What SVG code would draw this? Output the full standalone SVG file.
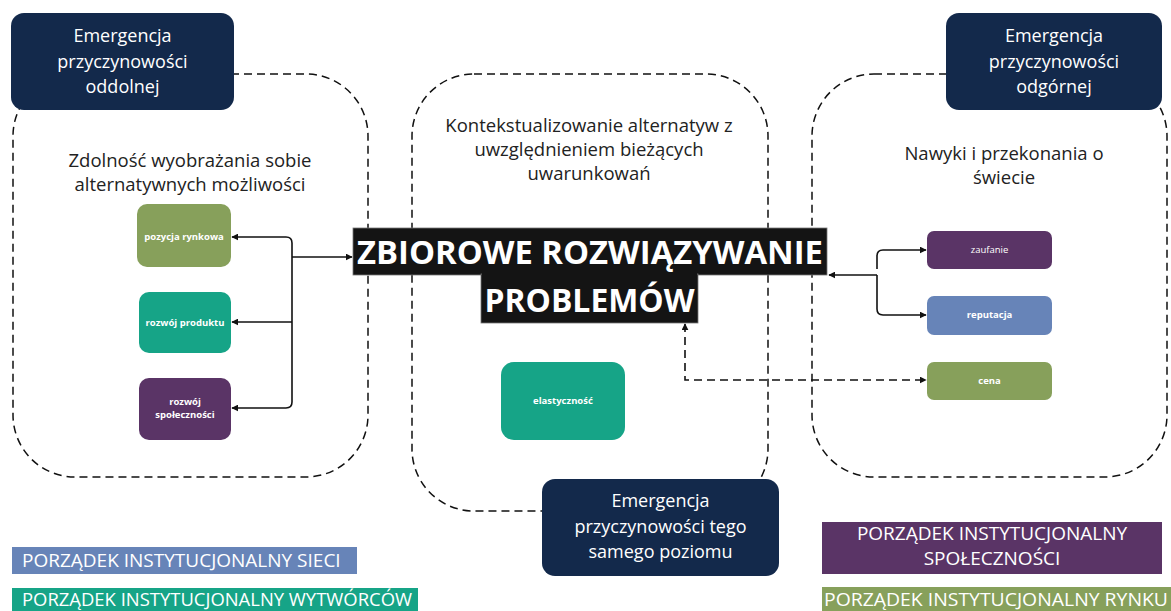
<svg xmlns="http://www.w3.org/2000/svg" width="1171" height="611" viewBox="0 0 1171 611">
  <style>
    text { font-family: "Open Sans", "Noto Sans", "DejaVu Sans", sans-serif; }
    .region { fill: none; stroke: #111; stroke-width: 1.5; stroke-dasharray: 8 5; }
    .rtitle { font-size: 18.5px; fill: #222; text-anchor: middle; }
    .emerg { fill: #13294b; }
    .etext { font-size: 18px; fill: #fff; text-anchor: middle; }
    .chip { font-size: 9.5px; font-weight: 700; fill: #fff; text-anchor: middle; }
    .chip-l { font-size: 9.5px; fill: #fff; text-anchor: middle; }
    .olive { fill: #87a05b; }
    .teal { fill: #16a487; }
    .purple { fill: #5a3466; }
    .blue { fill: #6784b8; }
    .title { font-size: 33px; font-weight: 700; fill: #fff; text-anchor: middle; }
    .legend { font-size: 19px; fill: #fff; }
    .wire { fill: none; stroke: #111; stroke-width: 1.6; }
    .dashwire { fill: none; stroke: #111; stroke-width: 1.6; stroke-dasharray: 8 5; }
  </style>
  <defs>
    <marker id="arrow" viewBox="0 0 10 10" refX="9" refY="5" markerWidth="7" markerHeight="7" markerUnits="userSpaceOnUse" orient="auto-start-reverse">
      <path d="M0,0 L10,5 L0,10 z" fill="#111"/>
    </marker>
  </defs>

  <rect width="1171" height="611" fill="#fff"/>

  <!-- dashed regions -->
  <g id="regions">
    <rect class="region" x="13" y="74" width="355" height="403" rx="62"/>
    <rect class="region" x="412" y="74" width="356" height="437" rx="62"/>
    <rect class="region" x="812" y="74" width="355" height="403" rx="62"/>
    <text class="rtitle" x="190" y="167">Zdolność wyobrażania sobie</text>
    <text class="rtitle" x="190" y="191">alternatywnych możliwości</text>
    <text class="rtitle" x="589" y="132">Kontekstualizowanie alternatyw z</text>
    <text class="rtitle" x="589" y="156">uwzględnieniem bieżących</text>
    <text class="rtitle" x="589" y="180">uwarunkowań</text>
    <text class="rtitle" x="1004" y="160">Nawyki i przekonania o</text>
    <text class="rtitle" x="1004" y="184">świecie</text>
  </g>

  <!-- central problem statement -->
  <g id="node-center">
    <rect x="353" y="228" width="474" height="47" fill="#141414" stroke="#777" stroke-width="0.8"/>
    <rect x="481" y="274" width="217" height="49" fill="#141414" stroke="#777" stroke-width="0.8"/>
    <rect x="482" y="273" width="215" height="3" fill="#141414"/>
    <text class="title" x="590" y="264" textLength="466" lengthAdjust="spacingAndGlyphs">ZBIOROWE ROZWIĄZYWANIE</text>
    <text class="title" x="589.5" y="312" textLength="210" lengthAdjust="spacingAndGlyphs">PROBLEMÓW</text>
  </g>

  <!-- connectors -->
  <g id="connectors">
    <path class="wire" d="M292,243 Q292,237 286,237 H232" marker-end="url(#arrow)"/>
    <path class="wire" d="M292,243 V402 Q292,408 286,408 H232" marker-end="url(#arrow)"/>
    <path class="wire" d="M292,322 H232" marker-end="url(#arrow)"/>
    <path class="wire" d="M292,257 H352" marker-end="url(#arrow)"/>
    <path class="wire" d="M877,275 H829" marker-end="url(#arrow)"/>
    <path class="wire" d="M877,269 V256 Q877,250 883,250 H926" marker-end="url(#arrow)"/>
    <path class="wire" d="M877,275 V309 Q877,315 883,315 H926" marker-end="url(#arrow)"/>
    <path class="dashwire" d="M685,324 V380 H926" marker-start="url(#arrow)" marker-end="url(#arrow)"/>
  </g>

  <!-- emergence labels -->
  <g id="node-oddolnej">
    <rect class="emerg" x="11" y="13" width="223" height="97" rx="13"/>
    <text class="etext" x="122.5" y="42">Emergencja</text>
    <text class="etext" x="122.5" y="68">przyczynowości</text>
    <text class="etext" x="122.5" y="93">oddolnej</text>
  </g>
  <g id="node-odgornej">
    <rect class="emerg" x="946" y="13" width="216" height="97" rx="13"/>
    <text class="etext" x="1054" y="42">Emergencja</text>
    <text class="etext" x="1054" y="68">przyczynowości</text>
    <text class="etext" x="1054" y="93">odgórnej</text>
  </g>
  <g id="node-poziomu">
    <rect class="emerg" x="542" y="479" width="237" height="97" rx="13"/>
    <text class="etext" x="660.5" y="507">Emergencja</text>
    <text class="etext" x="660.5" y="533">przyczynowości tego</text>
    <text class="etext" x="660.5" y="558">samego poziomu</text>
  </g>

  <!-- left chips -->
  <g id="node-pozycja">
    <rect class="olive" x="137" y="204" width="94" height="63" rx="10"/>
    <text class="chip" x="184" y="240">pozycja rynkowa</text>
  </g>
  <g id="node-produkt">
    <rect class="teal" x="139" y="292" width="92" height="61" rx="10"/>
    <text class="chip" x="185" y="326">rozwój produktu</text>
  </g>
  <g id="node-spolecznosc">
    <rect class="purple" x="139" y="378" width="92" height="62" rx="10"/>
    <text class="chip" x="185" y="405">rozwój</text>
    <text class="chip" x="185" y="418">społeczności</text>
  </g>

  <!-- middle chip -->
  <g id="node-elastycznosc">
    <rect class="teal" x="501" y="362" width="124" height="78" rx="13"/>
    <text class="chip" x="563" y="404">elastyczność</text>
  </g>

  <!-- right chips -->
  <g id="node-zaufanie">
    <rect class="purple" x="927" y="231" width="125" height="38" rx="7"/>
    <text class="chip-l" x="989.5" y="253">zaufanie</text>
  </g>
  <g id="node-reputacja">
    <rect class="blue" x="927" y="296" width="125" height="39" rx="7"/>
    <text class="chip" x="989.5" y="318">reputacja</text>
  </g>
  <g id="node-cena">
    <rect class="olive" x="927" y="362" width="125" height="38" rx="7"/>
    <text class="chip" x="989.5" y="384">cena</text>
  </g>

  <!-- legend -->
  <g id="legend-sieci">
    <rect class="blue" x="12" y="547" width="345" height="27"/>
    <text class="legend" x="22" y="567">PORZĄDEK INSTYTUCJONALNY SIECI</text>
  </g>
  <g id="legend-wytworcow">
    <rect class="teal" x="12" y="588" width="406" height="23"/>
    <text class="legend" x="22" y="606" textLength="390" lengthAdjust="spacingAndGlyphs">PORZĄDEK INSTYTUCJONALNY WYTWÓRCÓW</text>
  </g>
  <g id="legend-spolecznosci">
    <rect class="purple" x="822" y="522" width="340" height="52"/>
    <text class="legend" x="992" y="540" text-anchor="middle">PORZĄDEK INSTYTUCJONALNY</text>
    <text class="legend" x="992" y="565" text-anchor="middle">SPOŁECZNOŚCI</text>
  </g>
  <g id="legend-rynku">
    <rect class="olive" x="822" y="587" width="349" height="24"/>
    <text class="legend" x="824" y="606" textLength="344" lengthAdjust="spacingAndGlyphs">PORZĄDEK INSTYTUCJONALNY RYNKU</text>
  </g>
</svg>
